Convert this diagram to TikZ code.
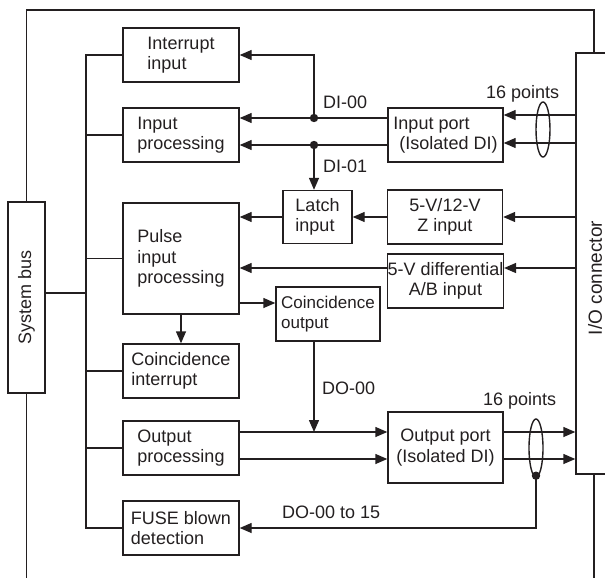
\documentclass[tikz,border=0pt]{standalone}
\usepackage{fontspec}
\setmainfont{Liberation Sans}
\usepackage{graphicx}
\usepackage{tikz}
\usetikzlibrary{arrows.meta,positioning,calc,shapes.geometric}
\definecolor{ink}{HTML}{231F20}
\tikzset{
  block/.style={draw=ink, line width=1.4pt, inner sep=0pt, align=left},
  leftbox/.style={block, minimum width=116pt, minimum height=54pt},
  portbox/.style={block, minimum width=115pt, minimum height=54pt, align=center},
  arrow/.style={-{Triangle[length=12pt,width=10pt]}, line width=1.4pt, draw=ink},
  wire/.style={line width=1.4pt, draw=ink},
  bundle/.style={draw=ink, ellipse, line width=1.4pt, minimum width=14pt, inner sep=0pt},
  tag/.style={anchor=base west, inner sep=0pt}
}

\begin{document}
\begin{tikzpicture}[x=1pt,y=-1pt,font=\fontsize{18}{20.5}\selectfont,text=ink]
    \useasboundingbox (0,0) rectangle (605,578);
    \clip (0,0) rectangle (605,578);

    % board side
    \node[block,minimum width=37pt,minimum height=191pt] (sysbus) at (26.5,297.5) {\rotatebox{90}{System bus}};
    \node[leftbox] (intr)    at (181,55)    {Interrupt\\input};
    \node[leftbox] (inproc)  at (181,135)   {Input\\processing};
    \node[leftbox,minimum height=111pt] (pulse) at (181,258.5) {Pulse\\input\\processing};
    \node[leftbox] (coinint) at (181,371)   {Coincidence\\interrupt};
    \node[leftbox] (outproc) at (181,448)   {Output\\processing};
    \node[leftbox] (fuse)    at (181,528)   {FUSE blown\\detection};

    \node[block,minimum width=69pt,minimum height=53pt] (latch) at (317.5,217) {Latch\\input};
    \node[block,minimum width=104pt,minimum height=54pt,font=\fontsize{17}{20}\selectfont] (coinout) at (328,314) {Coincidence\\output};
    \node[portbox,align=left] (inport) at (445.5,135) {Input port\\\hspace*{6pt}(Isolated DI)};
    \node[portbox] (zin)     at (445,217)   {5-V/12-V\\Z input};
    \node[portbox] (diff)    at (445.5,281) {5-V differential\\A/B input};
    \node[portbox,minimum height=71pt] (outport) at (445.5,447.5) {Output port\\(Isolated DI)};

    \node[block,minimum width=40pt,minimum height=421pt] (io) at (596,263.5) {};
    \node[rotate=90,font=\fontsize{19}{20}\selectfont] (iolbl) at (595,278) {I/O connector};

    % outer frame
    \coordinate (fr) at (594,10);
    \coordinate (fb) at (0,578);
    \draw[wire] (sysbus.north) |- (fr) -- (fr |- io.north);
    \draw[wire] (sysbus.south) -- (sysbus.south |- fb);
    \draw[wire] (fr |- io.south) -- (fr |- fb);

    % internal bus
    \coordinate (bus) at (86,0);
    \coordinate (sb) at ([yshift=4.5pt]sysbus.east);
    \draw[wire] (intr.west) -- (intr.west -| bus) -- (fuse.west -| bus) -- (fuse.west);
    \foreach \b in {inproc,pulse,coinint,outproc}
      \draw[wire] (\b.west) -- (\b.west -| bus);
    \draw[wire] (sb) -- (sb -| bus);

    % inputs
    \coordinate (j00) at (314,118);
    \coordinate (j01) at (314,145);
    \draw[arrow] (j00 -| inport.west) -- (j00 -| inproc.east);
    \draw[arrow] (j01 -| inport.west) -- (j01 -| inproc.east);
    \draw[arrow] (j00) |- (intr.east);
    \draw[arrow] (j01) -- (j01 |- latch.north);
    \fill[ink] (j00) circle (4.2pt) (j01) circle (4.2pt);

    \coordinate (ia) at ([yshift=20pt]inport.east);
    \coordinate (ib) at ([yshift=-8pt]inport.east);
    \draw[arrow] (ia -| io.west) -- (ia);
    \draw[arrow] (ib -| io.west) -- (ib);
    \node[bundle,minimum height=55pt] (bndin) at (543,129.5) {};

    \draw[arrow] (zin.east -| io.west) -- (zin.east);
    \draw[arrow] (zin.west) -- (latch.east);
    \draw[arrow] (latch.west) -- (latch.west -| pulse.east);

    \coordinate (da) at ([yshift=13pt]diff.east);
    \draw[arrow] (da -| io.west) -- (da);
    \draw[arrow] (da -| diff.west) -- (da -| pulse.east);

    \coordinate (pc) at ([yshift=-44.5pt]pulse.east);
    \draw[arrow] (pc) -- (pc -| coinout.west);
    \draw[arrow] (pulse.south) -- (coinint.north);

    % outputs
    \coordinate (oa) at ([yshift=16pt]outproc.east);
    \coordinate (ob) at ([yshift=-11pt]outproc.east);
    \draw[arrow] (oa) -- (oa -| outport.west);
    \draw[arrow] (ob) -- (ob -| outport.west);
    \draw[arrow] (oa -| outport.east) -- (oa -| io.west);
    \draw[arrow] (ob -| outport.east) -- (ob -| io.west);
    \draw[arrow] (coinout.south -| j00) -- (oa -| j00);

    \node[bundle,minimum height=58pt] (bndout) at (536,448) {};
    \fill[ink] ([yshift=2pt]bndout.south) circle (4.2pt);
    \draw[arrow] ([yshift=2pt]bndout.south) |- (fuse.east);

    % signal names
    \node[tag] (di00)   at (323,108) {DI-00};
    \node[tag] (di01)   at (323,172) {DI-01};
    \node[tag] (ptsin)  at (486,98)  {16 points};
    \node[tag] (do00)   at (322,394) {DO-00};
    \node[tag] (ptsout) at (483,405) {16 points};
    \node[tag] (doall)  at (282,518) {DO-00 to 15};
\end{tikzpicture}
\end{document}
